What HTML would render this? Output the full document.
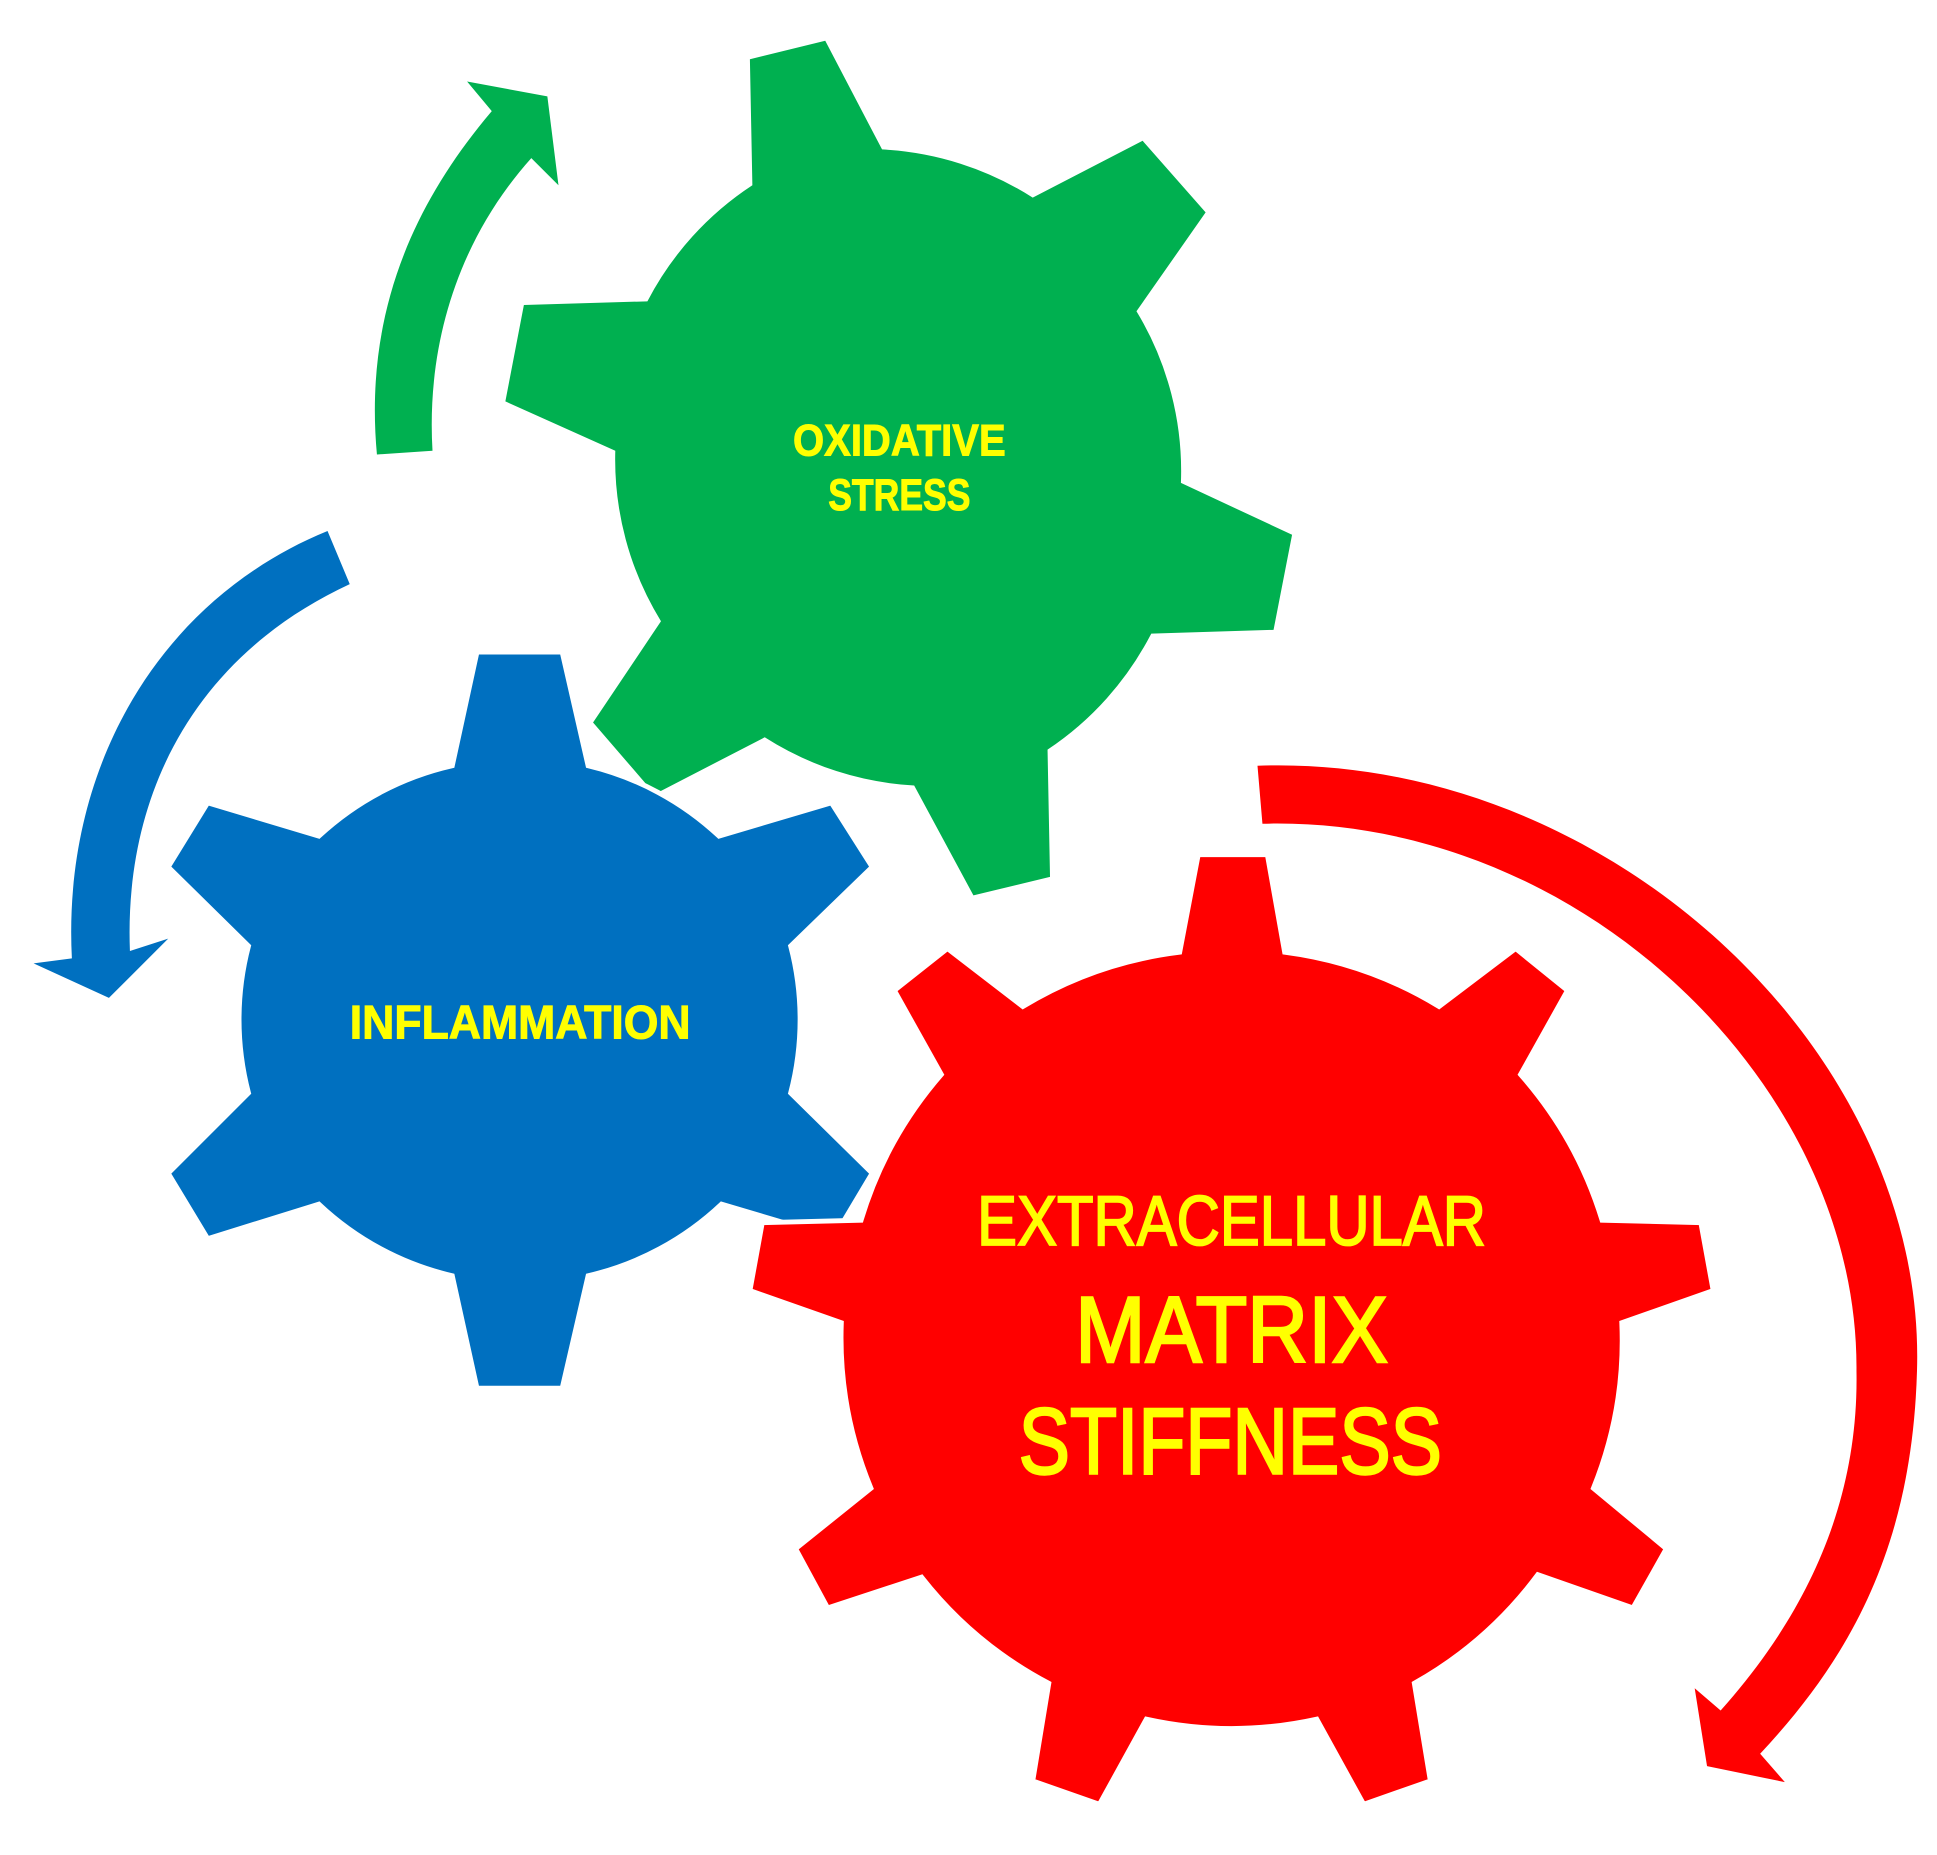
<!DOCTYPE html>
<html><head><style>html,body{margin:0;padding:0;background:#fff}svg{display:block}</style></head>
<body>
<svg width="1937" height="1855" viewBox="0 0 1568 1502" xmlns="http://www.w3.org/2000/svg">
<path fill="#00b050" d="M607,48 L668,33 L714,121 A250,250 0 0 1 836,160 L925,114 L976,172 L920,252 A250,250 0 0 1 956,391 L1046,433 L1031,510 L932,513 A250,250 0 0 1 848,607 L850,710 L788,725 L740,636 A250,250 0 0 1 619,597 L530,643 L480,585 L535,503 A250,250 0 0 1 498,365 L409,325 L424,247 L524,244 A250,250 0 0 1 609,150 Z"/>
<path fill="#0070c0" stroke="#fff" stroke-width="4" d="M386,528 L455,528 L476,620 A235,235 0 0 1 582,677 L673,650 L706,702 L640,766 A235,235 0 0 1 640,885 L706,950 L675,1002 L584,975 A235,235 0 0 1 476,1033 L455,1124 L386,1124 L366,1033 A235,235 0 0 1 258,975 L168,1003 L136,950 L201,885 A235,235 0 0 1 201,766 L136,702 L168,650 L258,677 A235,235 0 0 1 366,620 Z"/>
<path fill="#ff0000" stroke="#fff" stroke-width="4" d="M970,692 L1026,692 L1040,771 A320,320 0 0 1 1165,815 L1227,768 L1269,802 L1231,870 A320,320 0 0 1 1297,988 L1377,990 L1387,1045 L1313,1071 A320,320 0 0 1 1290,1205 L1349,1254 L1322,1302 L1245,1275 A320,320 0 0 1 1145,1363 L1158,1442 L1104,1461 L1066,1392 A320,320 0 0 1 928,1392 L890,1461 L836,1442 L849,1363 A320,320 0 0 1 746,1277 L670,1302 L644,1254 L705,1205 A320,320 0 0 1 681,1071 L607,1045 L617,990 L697,988 A320,320 0 0 1 762,870 L724,802 L767,768 L828,815 A320,320 0 0 1 955,771 Z"/>
<path fill="#00b050" d="M305,368 C295,260 330,170 398,90 L378,66 L443,78 L452,150 L430,128 C370,195 345,280 350,365 Z"/>
<path fill="#0070c0" d="M265,430 C130,485 50,620 58,776 L27,780 L88,808 L136,760 L105,770 C100,640 160,530 283,473 Z"/>
<path fill="#ff0000" d="M1018,620 C1300,610 1560,850 1552,1110 C1548,1250 1500,1340 1425,1420 L1445,1443 L1382,1430 L1372,1367 L1393,1385 C1460,1310 1505,1220 1503,1110 C1505,880 1280,660 1022,667 Z"/>
<g fill="#ffff00" stroke="#ffff00" font-family="Liberation Sans, sans-serif" text-anchor="middle">
<text transform="translate(728,369) scale(0.9,1)" font-size="36" font-weight="bold" stroke-width="0.8">OXIDATIVE</text>
<text transform="translate(728,413) scale(0.8,1)" font-size="36" font-weight="bold" stroke-width="0.8">STRESS</text>
<text transform="translate(421,841) scale(0.95,1)" font-size="38" font-weight="bold" stroke-width="0.8">INFLAMMATION</text>
<text transform="translate(997,1008) scale(0.85,1)" font-size="57" stroke-width="1.5">EXTRACELLULAR</text>
<text transform="translate(997,1103) scale(0.9,1)" font-size="76" stroke-width="2">MATRIX</text>
<text transform="translate(996,1193) scale(0.82,1)" font-size="76" stroke-width="2">STIFFNESS</text>
</g>
</svg>
</body></html>
